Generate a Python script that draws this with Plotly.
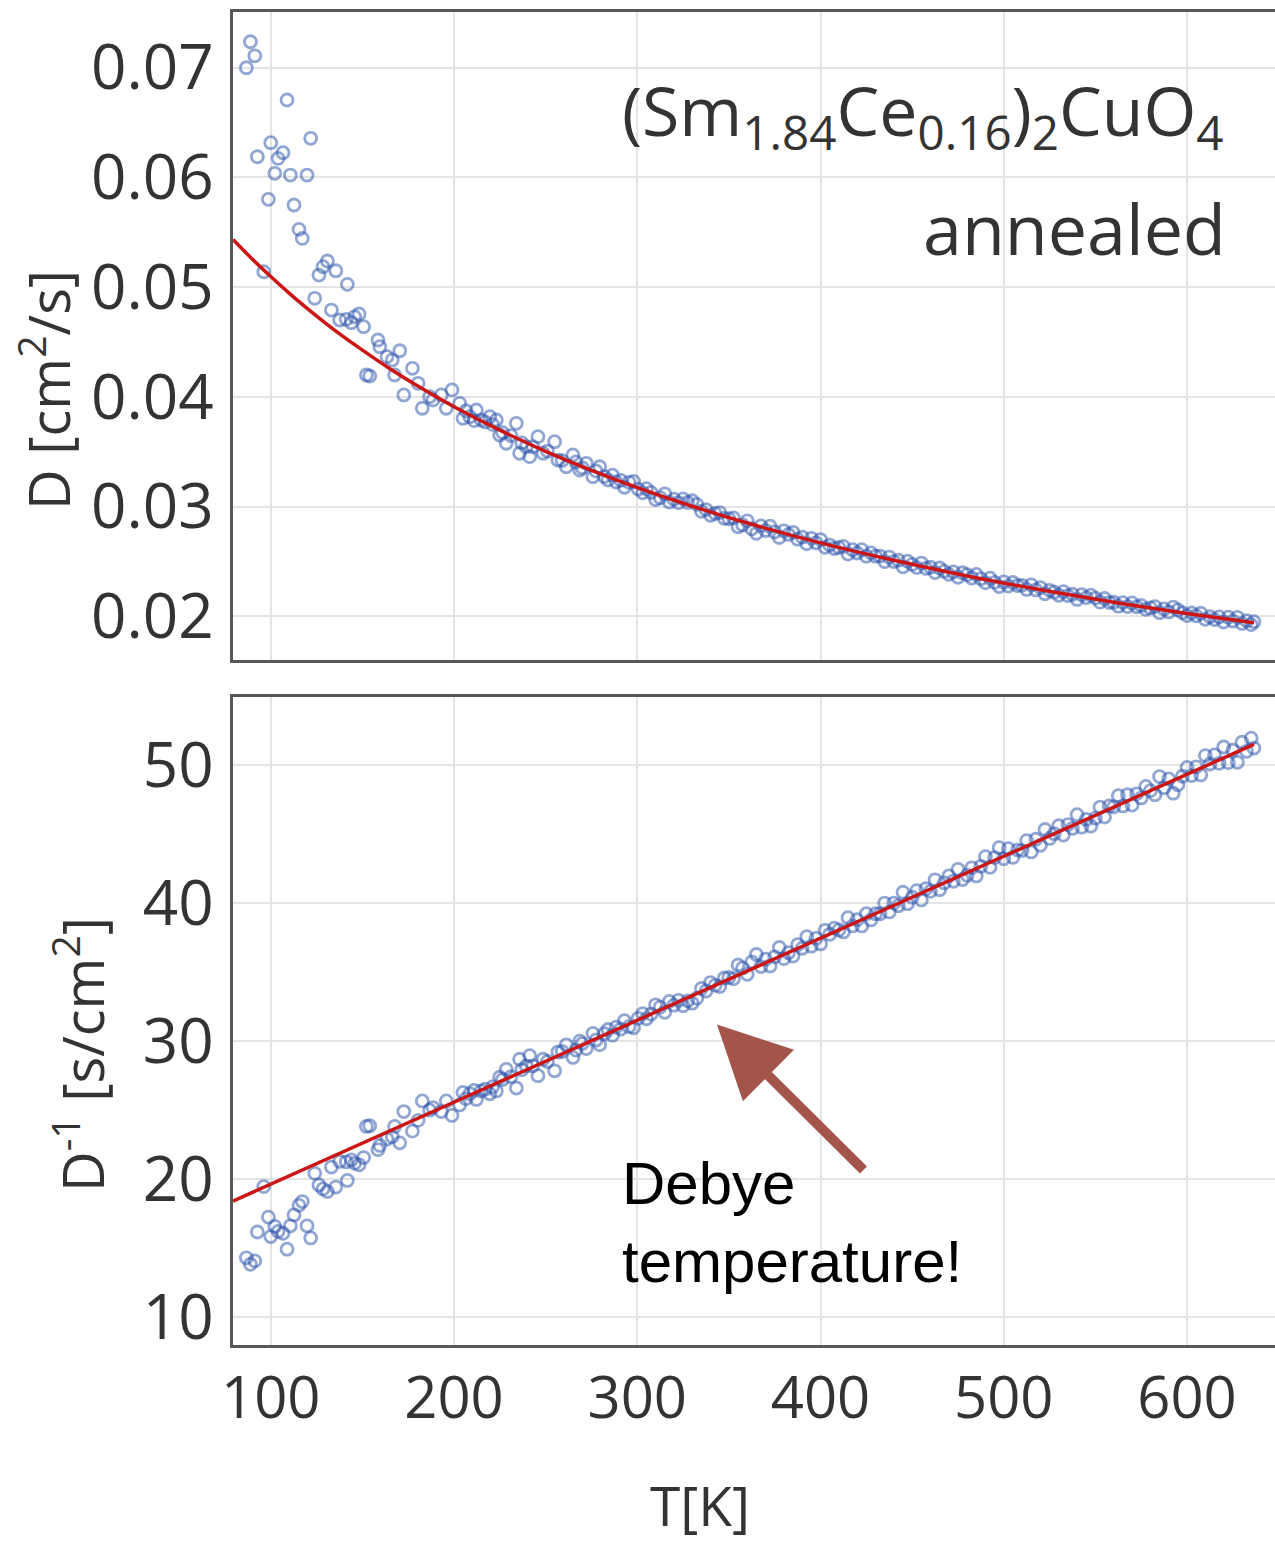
import plotly.graph_objects as go

# ---------------- data ----------------
# Temperature T [K] of each measured point
T = [
    88.9, 91.3, 86.7, 108.9, 121.8, 100.0, 92.7, 106.7, 104.0, 102.2,
    110.7, 119.8, 98.7, 112.7, 115.4, 117.2, 96.2, 130.9, 128.5, 126.3,
    135.5, 141.8, 124.0, 133.1, 137.6, 141.2, 145.8, 148.2, 150.7, 144.0,
    158.5, 159.5, 163.4, 166.3, 170.4, 154.0, 152.2, 167.6, 177.3, 172.6,
    180.4, 182.7, 186.7, 188.5, 193.1, 198.9, 195.8, 203.1, 204.9,
    208.6, 212.2, 214.9, 219.5, 223.1, 224.9, 228.5, 234.0, 235.8, 239.4,
    241.3, 245.8, 248.6, 254.9, 256.7, 261.3, 264.9, 268.6, 272.2, 275.8,
    279.5, 284.0,
    206.5, 211.0, 217.0, 221.0, 226.5, 231.0, 237.0, 243.0, 251.0, 259.0,
    266.5, 270.0, 277.5, 282.0,
    286.5, 288.5, 291.0, 293.0, 295.5, 298.0, 300.5, 303.0, 305.0, 307.5,
    310.0, 312.5, 315.0, 317.5, 320.0, 322.5, 325.0, 327.5, 330.0, 332.5,
    335.0, 337.5, 340.0, 342.5, 345.0, 347.5, 350.0, 352.5, 355.0, 357.5,
    360.0, 362.5, 365.0, 367.5, 370.0, 372.5, 375.0, 377.5, 380.0, 382.5,
    385.0, 387.5, 390.0, 392.5, 395.0, 397.5, 400.0, 402.5, 405.0, 407.5,
    410.0, 412.5, 415.0, 417.5, 420.0, 422.5, 425.0, 427.5, 430.0, 432.5,
    435.0, 437.5, 440.0, 442.5, 445.0, 447.5, 450.0, 452.5, 455.0, 457.5,
    460.0, 462.5, 465.0, 467.5, 470.0, 472.5, 475.0, 477.5, 480.0, 482.5,
    485.0, 487.5, 490.0, 492.5, 495.0, 497.5, 500.0, 502.5, 505.0, 507.5,
    510.0, 512.5, 515.0, 517.5, 520.0, 522.5, 525.0, 527.5, 530.0, 532.5,
    535.0, 537.5, 540.0, 542.5, 545.0, 547.5, 550.0, 552.5, 555.0, 557.5,
    560.0, 562.5, 565.0, 567.5, 570.0, 572.5, 575.0, 577.5, 580.0, 582.5,
    585.0, 587.5, 590.0, 592.5, 595.0, 597.5, 600.0, 602.5, 605.0, 607.5,
    610.0, 612.5, 615.0, 617.5, 620.0, 622.5, 625.0, 627.5, 630.0, 632.5,
    635.0, 636.5,
]

# Diffusion constant D [cm^2/s] of each measured point
D = [
    0.07237, 0.07109, 0.07000, 0.06706, 0.06357, 0.06317, 0.06189, 0.06226, 0.06174, 0.06038,
    0.06022, 0.06022, 0.05801, 0.05749, 0.05527, 0.05445, 0.05141, 0.05239, 0.05187, 0.05111,
    0.05150, 0.05026, 0.04899, 0.04792, 0.04701, 0.04707, 0.04731, 0.04756, 0.04640, 0.04677,
    0.04519, 0.04458, 0.04367, 0.04337, 0.04421, 0.04191, 0.04200, 0.04200, 0.04261, 0.04018,
    0.04124, 0.03897, 0.04002, 0.03972, 0.04018, 0.04064, 0.03897, 0.03942, 0.03806,
    0.03820, 0.03881, 0.03790, 0.03820, 0.03790, 0.03653, 0.03578, 0.03760, 0.03487, 0.03547,
    0.03456, 0.03638, 0.03487, 0.03592, 0.03425, 0.03364, 0.03471, 0.03334, 0.03395, 0.03273,
    0.03364, 0.03243,
    0.03874, 0.03784, 0.03772, 0.03750, 0.03675, 0.03648, 0.03581, 0.03546, 0.03507, 0.03420,
    0.03408, 0.03354, 0.03325, 0.03275,
    0.03287, 0.03225, 0.03240, 0.03177, 0.03222, 0.03230, 0.03160, 0.03126, 0.03164, 0.03130,
    0.03065, 0.03081, 0.03117, 0.03042, 0.03068, 0.03035, 0.03071, 0.03038, 0.03054, 0.03021,
    0.02958, 0.02974, 0.02921, 0.02938, 0.02946, 0.02893, 0.02890, 0.02898, 0.02816, 0.02833,
    0.02871, 0.02799, 0.02757, 0.02825, 0.02783, 0.02822, 0.02770, 0.02719, 0.02780, 0.02747,
    0.02766, 0.02704, 0.02723, 0.02662, 0.02712, 0.02671, 0.02700, 0.02630, 0.02650, 0.02619,
    0.02628, 0.02638, 0.02568, 0.02608, 0.02578, 0.02608, 0.02549, 0.02579, 0.02549, 0.02550,
    0.02500, 0.02541, 0.02500, 0.02512, 0.02452, 0.02503, 0.02474, 0.02445, 0.02486, 0.02437,
    0.02448, 0.02399, 0.02441, 0.02412, 0.02383, 0.02405, 0.02356, 0.02398, 0.02380, 0.02350,
    0.02383, 0.02344, 0.02306, 0.02348, 0.02310, 0.02272, 0.02314, 0.02276, 0.02309, 0.02281,
    0.02283, 0.02246, 0.02288, 0.02241, 0.02263, 0.02206, 0.02238, 0.02221, 0.02193, 0.02226,
    0.02189, 0.02202, 0.02155, 0.02198, 0.02171, 0.02194, 0.02167, 0.02130, 0.02163, 0.02126,
    0.02129, 0.02093, 0.02126, 0.02090, 0.02123, 0.02087, 0.02100, 0.02064, 0.02077, 0.02090,
    0.02034, 0.02068, 0.02041, 0.02085, 0.02059, 0.02033, 0.02007, 0.02031, 0.02005, 0.02029,
    0.01973, 0.01997, 0.01971, 0.01995, 0.01949, 0.01993, 0.01958, 0.01992, 0.01936, 0.01961,
    0.01925, 0.01952,
]

# Inverse diffusion constant D^-1 [s/cm^2] (lower panel shows 1/D of the same points)
D_inv = [1.0 / d for d in D]

# Fit curves
T_fit = [79.4, 90, 100, 110, 120, 130, 140, 150, 165, 180, 200, 225, 250, 275,
         300, 330, 360, 400, 440, 480, 520, 560, 600, 636.5]
D_fit = [0.05435, 0.05255, 0.05097, 0.04946, 0.04805, 0.04671, 0.04545, 0.04427,
         0.04257, 0.04102, 0.03911, 0.03697, 0.03504, 0.03331, 0.03174, 0.03004,
         0.02851, 0.02670, 0.02511, 0.02369, 0.02243, 0.02129, 0.02027, 0.01942]
T_line = [79.4, 636.5]
D_inv_line = [18.4, 51.5]

x_ticks = [100, 200, 300, 400, 500, 600]
y1_ticks = [0.02, 0.03, 0.04, 0.05, 0.06, 0.07]
y2_ticks = [10, 20, 30, 40, 50]

# ---------------- styling ----------------
MARK = dict(symbol="circle-open", size=12, color="rgba(45,85,170,0.52)",
            line=dict(width=2.8))
RED = "#cc1515"
FRAME = "#585858"
GRID = "#e4e4e4"
TXT = "#333333"
FONT = "Open Sans"

fig = go.Figure()
fig.add_trace(go.Scatter(x=T, y=D, mode="markers", marker=MARK,
                         xaxis="x", yaxis="y", hoverinfo="skip"))
fig.add_trace(go.Scatter(x=T_fit, y=D_fit, mode="lines",
                         line=dict(color=RED, width=3.5, shape="spline"),
                         xaxis="x", yaxis="y", hoverinfo="skip"))
fig.add_trace(go.Scatter(x=T, y=D_inv, mode="markers", marker=MARK,
                         xaxis="x2", yaxis="y2", hoverinfo="skip"))
fig.add_trace(go.Scatter(x=T_line, y=D_inv_line, mode="lines",
                         line=dict(color=RED, width=3.5),
                         xaxis="x2", yaxis="y2", hoverinfo="skip"))

xcommon = dict(range=[79.4, 648], tickvals=x_ticks, showgrid=True,
               gridcolor=GRID, gridwidth=1.5, showline=True, mirror=True,
               linecolor=FRAME, linewidth=3, zeroline=False, ticks="",
               automargin=False)
ycommon = dict(showgrid=True, gridcolor=GRID, gridwidth=1.5, showline=True,
               mirror=False, linecolor=FRAME, linewidth=3, zeroline=False,
               ticks="", automargin=False, ticklabelstandoff=4,
               tickfont=dict(family=FONT, size=62, color=TXT))

fig.update_layout(
    width=1275, height=1542,
    margin=dict(l=233, r=0, t=12, b=197),
    paper_bgcolor="white", plot_bgcolor="white",
    showlegend=False,
    xaxis=dict(**xcommon, domain=[0, 1], anchor="y", showticklabels=False),
    yaxis=dict(**ycommon, domain=[0.5139, 1], anchor="x",
               range=[0.01603, 0.07508], tickvals=y1_ticks, tickformat=".2f"),
    xaxis2=dict(**xcommon, domain=[0, 1], anchor="y2", matches="x",
                showticklabels=True, ticklabelstandoff=0,
                tickfont=dict(family=FONT, size=58, color=TXT)),
    yaxis2=dict(**ycommon, domain=[0, 0.4861], anchor="x2",
                range=[7.97, 54.93], tickvals=y2_ticks),
)

W, H = 1042.0, 1333.0
def px(xp):
    return (xp - 233) / W
def py(yp):
    return (1345 - yp) / H

ann = [
    dict(text="D [cm<sup>2</sup>/s]", x=px(45), y=py(390), textangle=-90,
         font=dict(family=FONT, size=56, color=TXT)),
    dict(text="D<sup>-1</sup> [s/cm<sup>2</sup>]", x=px(79), y=py(1055), textangle=-90,
         font=dict(family=FONT, size=56, color=TXT)),
    dict(text="T[K]", x=px(700), y=py(1504),
         font=dict(family=FONT, size=55, color=TXT)),
    dict(text="(Sm<sub>1.84</sub>Ce<sub>0.16</sub>)<sub>2</sub>CuO<sub>4</sub>",
         x=px(1226), y=py(114), xanchor="right", yanchor="middle",
         font=dict(family=FONT, size=68, color=TXT)),
    dict(text="annealed", x=px(1228), y=py(228), xanchor="right", yanchor="middle",
         font=dict(family=FONT, size=70, color=TXT)),
    dict(text="Debye<br>temperature!", x=px(620), y=py(1222), xanchor="left",
         yanchor="middle", align="left",
         font=dict(family="Liberation Sans", size=60, color="black")),
]
for a in ann:
    a.setdefault("xanchor", "center")
    a.setdefault("yanchor", "middle")
    a.update(xref="paper", yref="paper", showarrow=False)
fig.update_layout(annotations=ann)

fig.add_annotation(x=343.5, y=31.2, xref="x2", yref="y2", text="",
                   showarrow=True, arrowhead=2, arrowsize=1.45, arrowwidth=10,
                   arrowcolor="#a4554b", ax=148, ay=147, standoff=0)

# remove the default page margin so the 1275x1542 figure fills the window exactly
fig.write_html("out.html",
               config={"displayModeBar": False},
               post_script="document.body.style.margin='0px';"
                           "document.body.style.overflow='hidden';")
